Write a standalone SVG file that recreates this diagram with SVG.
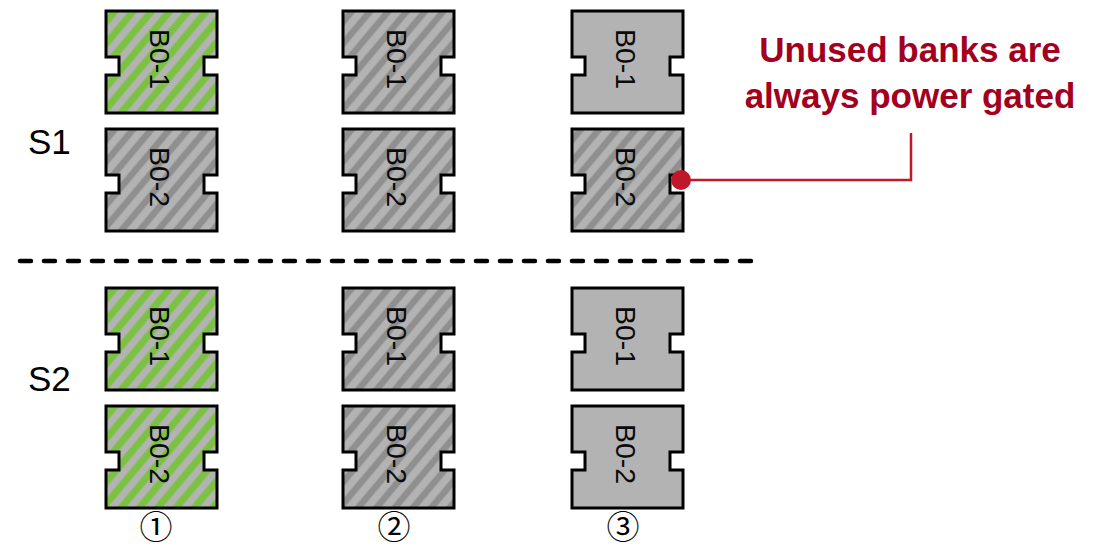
<svg xmlns="http://www.w3.org/2000/svg" xmlns:xlink="http://www.w3.org/1999/xlink" width="1104" height="550" viewBox="0 0 1104 550">
<defs>
<style>
.bank-outline{stroke:#000;stroke-width:3;stroke-linejoin:miter}
.green{fill:url(#hatchGreen)}
.grayh{fill:url(#hatchGray)}
.plain{fill:#b3b3b3}
.lbl{font-family:"Liberation Sans",Arial,sans-serif;font-size:28.5px;fill:#0a0a0a;text-anchor:middle;dominant-baseline:central}
.side{font-family:"Liberation Sans",Arial,sans-serif;font-size:35px;fill:#000}
.num{font-family:"Noto Sans CJK JP","DejaVu Sans",sans-serif;font-size:33px;fill:#000;text-anchor:middle}
.note{font-family:"Liberation Sans",Arial,sans-serif;font-size:35px;font-weight:bold;fill:#a3001e;text-anchor:middle}
</style>
<pattern id="hatchGreen" patternUnits="userSpaceOnUse" width="14" height="40" patternTransform="rotate(40)">
<rect width="14" height="40" fill="#b3b3b3"/>
<path d="M7,-2 V42" stroke="#7cc242" stroke-width="7" stroke-linecap="round"/>
</pattern>
<pattern id="hatchGray" patternUnits="userSpaceOnUse" width="14" height="40" patternTransform="rotate(40)">
<rect width="14" height="40" fill="#b3b3b3"/>
<path d="M7,-2 V42" stroke="#8f8f8f" stroke-width="6.5" stroke-linecap="round"/>
</pattern>
<path id="bank" d="M0,0 H111 V46 H98 V64 H111 V102 H0 V64 H13 V46 H0 Z"/>
</defs>
<rect width="1104" height="550" fill="#fff"/>

<text class="side" x="28" y="154">S1</text>
<text class="side" x="28" y="391">S2</text>

<line x1="20" y1="261" x2="752" y2="261" stroke="#000" stroke-width="4.5" stroke-linecap="round" stroke-dasharray="11 13"/>

<g id="s1-c1-b01"><use xlink:href="#bank" x="106" y="11" class="green bank-outline"/><text class="lbl" transform="translate(160,59) rotate(90)">B0-1</text></g>
<g id="s1-c1-b02"><use xlink:href="#bank" x="106" y="129" class="grayh bank-outline"/><text class="lbl" transform="translate(160,177) rotate(90)">B0-2</text></g>
<g id="s1-c2-b01"><use xlink:href="#bank" x="343" y="11" class="grayh bank-outline"/><text class="lbl" transform="translate(397,59) rotate(90)">B0-1</text></g>
<g id="s1-c2-b02"><use xlink:href="#bank" x="343" y="129" class="grayh bank-outline"/><text class="lbl" transform="translate(397,177) rotate(90)">B0-2</text></g>
<g id="s1-c3-b01"><use xlink:href="#bank" x="572" y="11" class="plain bank-outline"/><text class="lbl" transform="translate(626,59) rotate(90)">B0-1</text></g>
<g id="s1-c3-b02"><use xlink:href="#bank" x="572" y="129" class="grayh bank-outline"/><text class="lbl" transform="translate(626,177) rotate(90)">B0-2</text></g>

<g id="s2-c1-b01"><use xlink:href="#bank" x="106" y="288" class="green bank-outline"/><text class="lbl" transform="translate(160,336) rotate(90)">B0-1</text></g>
<g id="s2-c1-b02"><use xlink:href="#bank" x="106" y="406" class="green bank-outline"/><text class="lbl" transform="translate(160,454) rotate(90)">B0-2</text></g>
<g id="s2-c2-b01"><use xlink:href="#bank" x="343" y="288" class="grayh bank-outline"/><text class="lbl" transform="translate(397,336) rotate(90)">B0-1</text></g>
<g id="s2-c2-b02"><use xlink:href="#bank" x="343" y="406" class="grayh bank-outline"/><text class="lbl" transform="translate(397,454) rotate(90)">B0-2</text></g>
<g id="s2-c3-b01"><use xlink:href="#bank" x="572" y="288" class="plain bank-outline"/><text class="lbl" transform="translate(626,336) rotate(90)">B0-1</text></g>
<g id="s2-c3-b02"><use xlink:href="#bank" x="572" y="406" class="plain bank-outline"/><text class="lbl" transform="translate(626,454) rotate(90)">B0-2</text></g>

<g id="col-labels">
<text class="num" x="156" y="539">①</text>
<text class="num" x="394" y="539">②</text>
<text class="num" x="623" y="539">③</text>
</g>

<g id="note">
<text class="note" x="910" y="62">Unused banks are</text>
<text class="note" x="910" y="108">always power gated</text>
</g>

<g id="connectors">
<polyline points="681,180 911,180 911,133" fill="none" stroke="#c0182a" stroke-width="2.5"/>
<circle cx="681" cy="180" r="10" fill="#c0182a"/>
</g>
</svg>
